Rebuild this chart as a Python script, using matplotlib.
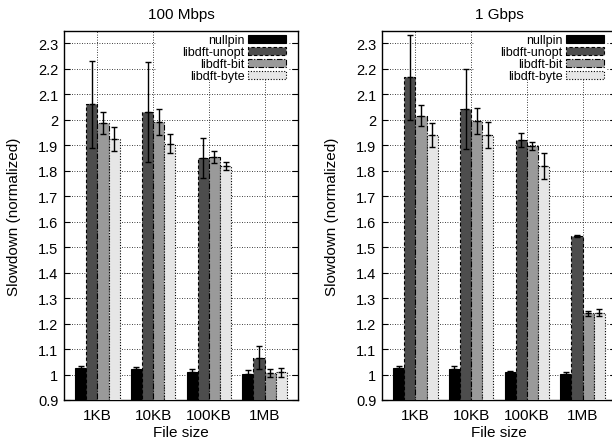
import matplotlib
matplotlib.use("Agg")
import matplotlib.pyplot as plt
from matplotlib.patches import Rectangle
from matplotlib.ticker import FormatStrFormatter, MultipleLocator
import numpy as np

plt.rcParams['font.family'] = ['Liberation Sans', 'DejaVu Sans']

categories = ["1KB", "10KB", "100KB", "1MB"]
series = ["nullpin", "libdft-unopt", "libdft-bit", "libdft-byte"]
titles = ["100 Mbps", "1 Gbps"]

# 100 Mbps
mbps_vals = {
    "nullpin":      [1.025, 1.022, 1.010, 1.002],
    "libdft-unopt": [2.060, 2.030, 1.850, 1.065],
    "libdft-bit":   [1.987, 1.990, 1.853, 1.007],
    "libdft-byte":  [1.925, 1.905, 1.818, 1.008],
}
mbps_errs = {
    "nullpin":      [0.008, 0.008, 0.010, 0.015],
    "libdft-unopt": [0.170, 0.197, 0.077, 0.045],
    "libdft-bit":   [0.042, 0.052, 0.024, 0.015],
    "libdft-byte":  [0.046, 0.037, 0.014, 0.016],
}
# 1 Gbps
gbps_vals = {
    "nullpin":      [1.027, 1.022, 1.010, 1.003],
    "libdft-unopt": [2.167, 2.040, 1.920, 1.545],
    "libdft-bit":   [2.015, 1.995, 1.897, 1.240],
    "libdft-byte":  [1.940, 1.940, 1.820, 1.243],
}
gbps_errs = {
    "nullpin":      [0.005, 0.012, 0.003, 0.005],
    "libdft-unopt": [0.167, 0.157, 0.028, 0.004],
    "libdft-bit":   [0.041, 0.050, 0.017, 0.010],
    "libdft-byte":  [0.048, 0.052, 0.051, 0.015],
}

colors = ["#000000", "#4d4d4d", "#9a9a9a", "#e6e6e6"]
edgestyles = ["-", (0, (3, 2)), (0, (5, 1.5, 1, 1.5)), (0, (1, 1.5))]

fig = plt.figure(figsize=(6.12, 4.39), dpi=100)
positions = [(64/612, 38/439, 234/612, 369/439), (382/612, 38/439, 234/612, 369/439)]

for pi, (vals, errs) in enumerate([(mbps_vals, mbps_errs), (gbps_vals, gbps_errs)]):
    ax = fig.add_axes(positions[pi])
    x = np.arange(len(categories))
    w = 0.2
    handles = []
    for si, s in enumerate(series):
        off = (si - 1.5) * w
        ax.bar(x + off, vals[s], width=w, bottom=0, color=colors[si],
               edgecolor="black", linewidth=0.8, linestyle=edgestyles[si], zorder=3)
        ax.errorbar(x + off, vals[s], yerr=errs[s], fmt='none', ecolor='black',
                    elinewidth=1.0, capsize=2.5, capthick=1.0, zorder=4)
        ax.plot(x + off, vals[s], linestyle='none', marker='_', markersize=4,
                color='black', mew=1.0, zorder=4)
        handles.append(Rectangle((0, 0), 1, 1, facecolor=colors[si], edgecolor='black',
                                 linewidth=0.8, linestyle=edgestyles[si]))
    ax.set_xlim(-0.6, 3.6)
    ax.set_ylim(0.9, 2.348)
    ax.yaxis.set_major_locator(MultipleLocator(0.1))
    ax.yaxis.set_major_formatter(FormatStrFormatter('%g'))
    ax.set_xticks(x)
    ax.set_xticklabels(categories, fontsize=11)
    ax.tick_params(axis='y', direction='in', length=4, right=True, labelsize=10.5, pad=4)
    ax.tick_params(axis='x', direction='in', length=0, pad=6)
    ax.grid(True, color='black', linestyle=(0, (1, 2)), linewidth=0.6, zorder=0)
    ax.set_axisbelow(True)
    for sp in ax.spines.values():
        sp.set_linewidth(1.0)
    ax.set_title(titles[pi], fontsize=11, pad=9)
    ax.set_xlabel("File size", fontsize=11, labelpad=2)
    ax.set_ylabel("Slowdown (normalized)", fontsize=11, labelpad=12)
    ax.add_patch(Rectangle((0.392, 0.872), 0.57, 0.128, transform=ax.transAxes,
                           facecolor='white', edgecolor='none', zorder=2.5))
    leg = ax.legend(handles, series, loc='upper right', bbox_to_anchor=(0.96, 1.0),
                    markerfirst=False, frameon=False, fontsize=9,
                    handlelength=3.0, handleheight=0.6, handletextpad=0.3,
                    labelspacing=0.0, borderpad=0.25, borderaxespad=0.0)
    leg.set_zorder(5)

fig.savefig("out.png", dpi=100)
